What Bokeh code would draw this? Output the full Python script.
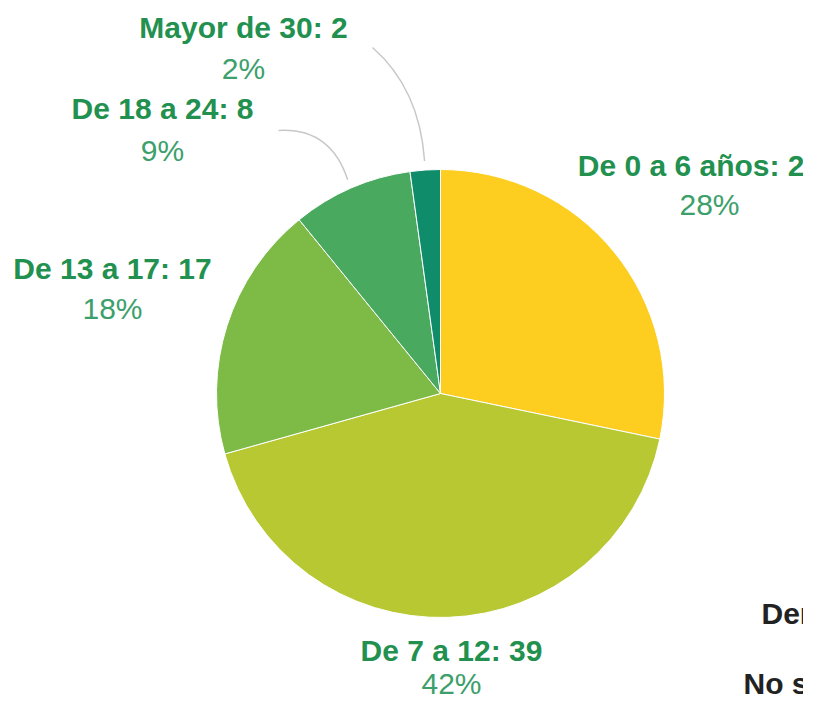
import math
from bokeh.plotting import figure
from bokeh.models import Range1d, ColumnDataSource
from bokeh.core.properties import value
from bokeh.embed import file_html
from bokeh.resources import INLINE

# ---- data ----
categories = ["De 0 a 6 años", "De 7 a 12", "De 13 a 17", "De 18 a 24", "Mayor de 30"]
counts = [26, 39, 17, 8, 2]
legend_texts = ["Demanda", "No sabe"]

# ---- styles / layout (pixel space of the plot, y downward) ----
colors = ["#FDCD1F", "#B8C832", "#7DBB46", "#48A95F", "#0F8C6A"]
PW, PH = 803, 699
CX, CY, R = 440, 393, 224
label_pos = [(699, 165), (451, 650), (112, 268), (162, 108), (243, 27)]
pct_pos = [(709, 204), (451, 683), (112, 308), (162, 150), (243, 68)]
leader_start = {3: (278, 130), 4: (372, 47)}
leader_ctrl = {3: (330, 127), 4: (419, 88)}
legend_pos = [(761, 613), (743, 683)]
LABEL_COLOR = "#22914f"
PCT_COLOR = "#3d9f6b"
FONT = "Liberation Sans"
FS = "30px"


def fy(y):
    return PH - y


p = figure(width=PW, height=PH,
           x_range=Range1d(0, PW), y_range=Range1d(0, PH),
           output_backend="svg", toolbar_location=None, min_border=0)
p.axis.visible = False
p.grid.visible = False
p.outline_line_color = None
p.background_fill_color = "white"

total = sum(counts)
fracs = [c / total for c in counts]
starts, ends, mids = [], [], []
cum = 0.0
for f in fracs:
    a0 = math.pi / 2 - 2 * math.pi * cum
    a1 = math.pi / 2 - 2 * math.pi * (cum + f)
    starts.append(a0)
    ends.append(a1)
    mids.append((a0 + a1) / 2)
    cum += f

src = ColumnDataSource(dict(start=starts, end=ends, color=colors))
p.wedge(x=CX, y=fy(CY), radius=R, start_angle="start", end_angle="end",
        direction="clock", fill_color="color", line_color="white", line_width=1,
        source=src)

# leader lines (end points computed from slice mid-angles)
for i, (sx, sy) in leader_start.items():
    ex = CX + (R + 9) * math.cos(mids[i])
    ey = fy(CY) + (R + 9) * math.sin(mids[i])
    cx, cy = leader_ctrl[i]
    p.quadratic(x0=[sx], y0=[fy(sy)], x1=[ex], y1=[ey], cx=[cx], cy=[fy(cy)],
                line_color="#c8c8c8", line_width=1.5)

lbl_src = ColumnDataSource(dict(
    x=[lp[0] for lp in label_pos],
    y=[fy(lp[1]) for lp in label_pos],
    text=[f"{c}: {n}" for c, n in zip(categories, counts)],
))
p.text(x="x", y="y", text="text", source=lbl_src, text_align="center",
       text_baseline="middle", text_font=value(FONT), text_font_size=FS,
       text_font_style="bold", text_color=LABEL_COLOR)

pct_src = ColumnDataSource(dict(
    x=[pp[0] for pp in pct_pos],
    y=[fy(pp[1]) for pp in pct_pos],
    text=[f"{round(f * 100)}%" for f in fracs],
))
p.text(x="x", y="y", text="text", source=pct_src, text_align="center",
       text_baseline="middle", text_font=value(FONT), text_font_size=FS,
       text_color=PCT_COLOR)

leg_src = ColumnDataSource(dict(
    x=[lp[0] for lp in legend_pos],
    y=[fy(lp[1]) for lp in legend_pos],
    text=legend_texts,
))
p.text(x="x", y="y", text="text", source=leg_src, text_align="left",
       text_baseline="middle", text_font=value(FONT), text_font_size=FS,
       text_font_style="bold", text_color="#222222")

open("out.html", "w").write(file_html(p, INLINE))
